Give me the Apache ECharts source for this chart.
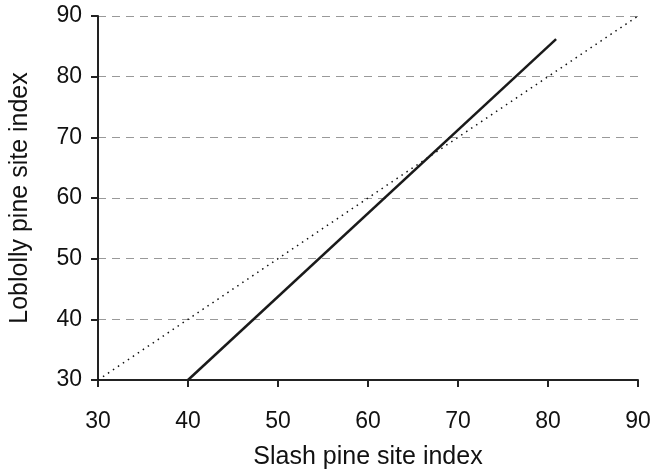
<!DOCTYPE html>
<html>
<head>
<meta charset="utf-8">
<script src="https://cdn.jsdelivr.net/npm/echarts@6/dist/echarts.min.js"></script>
<style>html,body{margin:0;padding:0;background:#fff}#c{width:655px;height:475px}</style>
</head>
<body>
<div id="c"></div>
<script>
var xTicks = [30, 40, 50, 60, 70, 80, 90];
var yTicks = [30, 40, 50, 60, 70, 80, 90];
var regressionX = [40, 80.9];
var regressionY = [30, 86.2];
var identityX = [30, 90];
var identityY = [30, 90];
var xTitle = 'Slash pine site index';
var yTitle = 'Loblolly pine site index';

function pairs(xs, ys) { return xs.map(function (x, i) { return [x, ys[i]]; }); }

var chart = echarts.init(document.getElementById('c'), null, {renderer: 'canvas'});
var font = 'Liberation Sans, Arial, sans-serif';
chart.setOption({
  animation: false,
  backgroundColor: '#fff',
  grid: {left: 97, right: 17, top: 16, bottom: 94},
  xAxis: {
    type: 'value', min: xTicks[0], max: xTicks[xTicks.length - 1], interval: 10,
    name: xTitle, nameLocation: 'middle', nameGap: 65,
    nameTextStyle: {fontFamily: font, fontSize: 25, color: '#111'},
    axisLine: {show: true, lineStyle: {color: '#222', width: 2}},
    axisTick: {show: true, length: 7, lineStyle: {color: '#222', width: 2}},
    axisLabel: {fontFamily: font, fontSize: 23, color: '#111', margin: 30},
    splitLine: {show: false}
  },
  yAxis: {
    type: 'value', min: yTicks[0], max: yTicks[yTicks.length - 1], interval: 10,
    name: yTitle, nameLocation: 'middle', nameGap: 65,
    nameTextStyle: {fontFamily: font, fontSize: 25, color: '#111'},
    axisLine: {show: true, lineStyle: {color: '#222', width: 2}},
    axisTick: {show: true, length: 7, lineStyle: {color: '#222', width: 2}},
    axisLabel: {fontFamily: font, fontSize: 23, color: '#111', margin: 16},
    splitLine: {show: true, lineStyle: {color: '#999', width: 1.2, type: [8, 6]}}
  },
  series: [
    {
      type: 'line', data: pairs(identityX, identityY), symbol: 'none',
      lineStyle: {color: '#111', width: 1.5, type: [1.5, 4.5]}, z: 3
    },
    {
      type: 'line', data: pairs(regressionX, regressionY), symbol: 'none',
      lineStyle: {color: '#1a1a1a', width: 2.5}, z: 4
    }
  ]
});
</script>
</body>
</html>
